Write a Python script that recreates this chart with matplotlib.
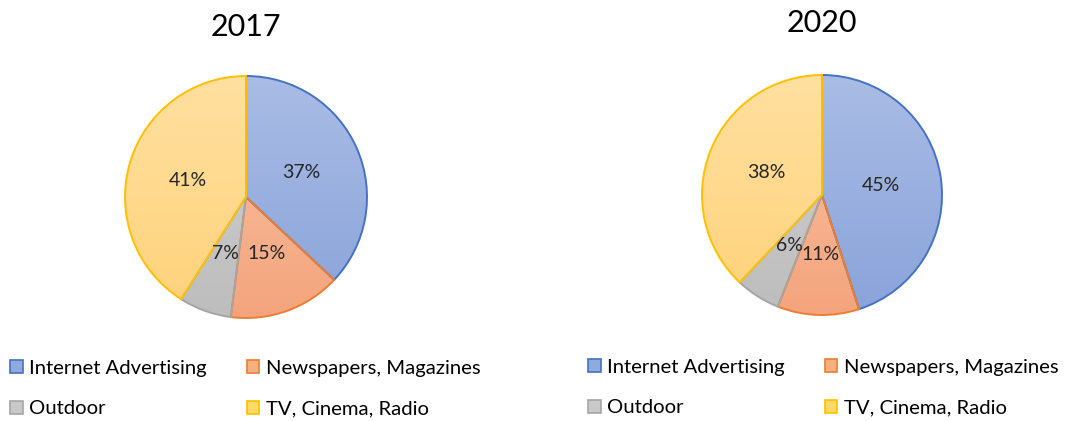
import numpy as np
import matplotlib
matplotlib.use("Agg")
import matplotlib.pyplot as plt
from matplotlib.patches import Patch
from matplotlib.colors import to_rgb

plt.rcParams['font.family'] = ['Lato', 'DejaVu Sans']

categories = ["Internet Advertising", "Newspapers, Magazines", "Outdoor", "TV, Cinema, Radio"]
values_2017 = [37, 15, 7, 41]
values_2020 = [45, 11, 6, 38]
titles = ["2017", "2020"]

fill_top = ["#A9BCE5", "#F9C4A6", "#D2D2D2", "#FFE0A0"]
fill_bot = ["#8AA3DA", "#F4A47C", "#BDBDBD", "#FFD27A"]
edges = ["#4472C4", "#ED7D31", "#A5A5A5", "#FFC000"]
legend_fill = ["#8FAADC", "#F4B183", "#C9C9C9", "#FFD966"]

W, H = 1070, 421
fig = plt.figure(figsize=(W / 100, H / 100), dpi=100)

def axes_at(cx, cy, r, pad=1.04):
    rr = r * pad
    return fig.add_axes([(cx - rr) / W, (H - cy - rr) / H, 2 * rr / W, 2 * rr / H])

def draw_pie(ax, vals):
    wedges, texts, autotexts = ax.pie(
        vals, startangle=90, counterclock=False, radius=1.0,
        autopct=lambda p: f"{p:.0f}%", pctdistance=0.5,
        wedgeprops=dict(linewidth=1.4), textprops=dict(fontsize=14, color="#262626"))
    grad = np.linspace(0, 1, 256)[:, None]
    for i, w in enumerate(wedges):
        c1 = np.array(to_rgb(fill_top[i]))
        c2 = np.array(to_rgb(fill_bot[i]))
        img = c1[None, None, :] * (1 - grad[..., None]) + c2[None, None, :] * grad[..., None]
        img = np.repeat(img, 4, axis=1)
        w.set_facecolor("none")
        w.set_edgecolor(edges[i])
        w.set_zorder(3)
        im = ax.imshow(img, extent=(-1, 1, -1, 1), origin="upper", zorder=1, aspect="auto")
        im.set_clip_path(w)
    for t in autotexts:
        t.set_zorder(5)
    ax.set_xlim(-1.04, 1.04)
    ax.set_ylim(-1.04, 1.04)
    ax.set_aspect("equal")
    ax.axis("off")

ax1 = axes_at(246, 197, 121)
draw_pie(ax1, values_2017)
ax2 = axes_at(822, 195, 120)
draw_pie(ax2, values_2020)

fig.text(246 / W, 1 - 27 / H, titles[0], fontsize=22, ha="center", va="center", color="black")
fig.text(822 / W, 1 - 23 / H, titles[1], fontsize=22, ha="center", va="center", color="black")

handles = [Patch(facecolor=legend_fill[i], edgecolor=edges[i], linewidth=1.2, label=categories[i])
           for i in range(4)]
# legend fills column-wise; reorder so rows read Internet/Newspapers, Outdoor/TV
order = [0, 2, 1, 3]
handles = [handles[i] for i in order]

for x0, y0 in [(6, 356), (584, 355)]:
    fig.legend(handles=handles, loc="upper left", bbox_to_anchor=(x0 / W, 1 - y0 / H),
               ncol=2, frameon=False, fontsize=14.6, handlelength=0.62, handleheight=0.62,
               handletextpad=0.3, labelspacing=1.15, columnspacing=2.0, borderaxespad=0,
               borderpad=0.2)

fig.savefig("out.png", dpi=100, facecolor="white")
